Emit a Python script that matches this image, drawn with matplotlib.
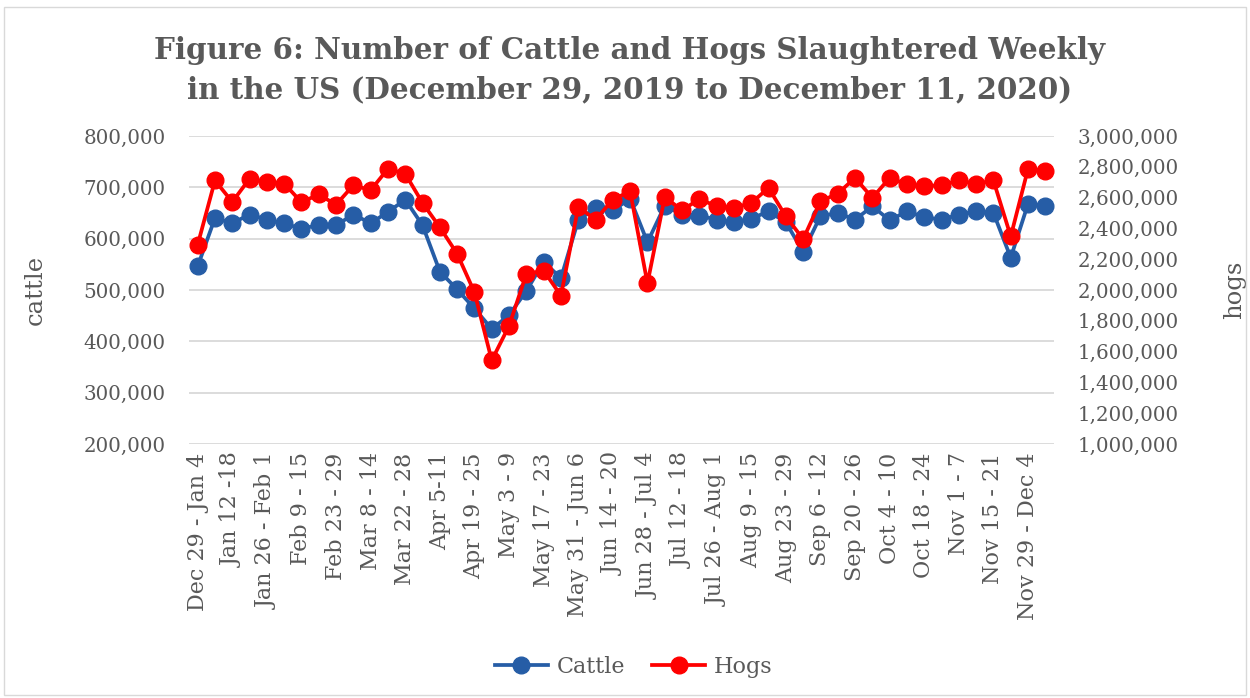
import matplotlib
matplotlib.use("Agg")
import matplotlib.pyplot as plt
from matplotlib.ticker import FuncFormatter
from matplotlib.patches import Rectangle

weeks = [
    "Dec 29 - Jan 4", "Jan 5 - 11", "Jan 12 -18", "Jan 19 - 25", "Jan 26 - Feb 1",
    "Feb 2 - 8", "Feb 9 - 15", "Feb 16 - 22", "Feb 23 - 29", "Mar 1 - 7",
    "Mar 8 - 14", "Mar 15 - 21", "Mar 22 - 28", "Mar 29 - Apr 4", "Apr 5-11",
    "Apr 12 - 18", "Apr 19 - 25", "Apr 26 - May 2", "May 3 - 9", "May 10 - 16",
    "May 17 - 23", "May 24 - 30", "May 31 - Jun 6", "Jun 7 - 13", "Jun 14 - 20",
    "Jun 21 - 27", "Jun 28 - Jul 4", "Jul 5 - 11", "Jul 12 - 18", "Jul 19 - 25",
    "Jul 26 - Aug 1", "Aug 2 - 8", "Aug 9 - 15", "Aug 16 - 22", "Aug 23 - 29",
    "Aug 30 - Sep 5", "Sep 6 - 12", "Sep 13 - 19", "Sep 20 - 26", "Sep 27 - Oct 3",
    "Oct 4 - 10", "Oct 11 - 17", "Oct 18 - 24", "Oct 25 - 31", "Nov 1 - 7",
    "Nov 8 - 14", "Nov 15 - 21", "Nov 22 - 28", "Nov 29 - Dec 4", "Dec 5 - 11",
]

cattle = [
    546000, 640000, 630000, 647000, 637000, 630000, 619000, 627000, 626000, 647000,
    630000, 652000, 676000, 626000, 536000, 501000, 464000, 424000, 451000, 498000,
    555000, 523000, 636000, 660000, 655000, 678000, 593000, 664000, 647000, 645000,
    637000, 632000, 639000, 653000, 632000, 574000, 644000, 650000, 637000, 663000,
    636000, 653000, 642000, 637000, 647000, 653000, 650000, 563000, 668000, 664000,
]

hogs = [
    2293000, 2711000, 2572000, 2722000, 2702000, 2691000, 2570000, 2620000, 2554000, 2680000,
    2648000, 2787000, 2754000, 2565000, 2407000, 2235000, 1985000, 1543000, 1767000, 2104000,
    2126000, 1963000, 2539000, 2457000, 2587000, 2641000, 2043000, 2604000, 2517000, 2591000,
    2543000, 2533000, 2565000, 2663000, 2478000, 2330000, 2576000, 2626000, 2728000, 2598000,
    2728000, 2685000, 2674000, 2680000, 2711000, 2689000, 2711000, 2348000, 2787000, 2772000,
]

title = "Figure 6: Number of Cattle and Hogs Slaughtered Weekly\nin the US (December 29, 2019 to December 11, 2020)"

TEXT = "#595959"
BLUE = "#265DA6"
RED = "#FF0000"
FONT = "DejaVu Serif"

plt.rcParams["font.family"] = FONT

fig = plt.figure(figsize=(12.5, 6.98), dpi=100)
fig.patches.append(Rectangle((0.003, 0.004), 0.994, 0.986, transform=fig.transFigure,
                             fill=False, edgecolor="#D9D9D9", linewidth=1.0))

ax = fig.add_axes([0.1512, 0.3639, 0.692, 0.4413])
ax2 = ax.twinx()

x = list(range(len(weeks)))
ax.plot(x, cattle, color=BLUE, lw=2.7, marker="o", ms=12, label="Cattle", zorder=3)
ax2.plot(x, hogs, color=RED, lw=2.7, marker="o", ms=12, label="Hogs", zorder=3)

ax.set_xlim(-0.5, len(weeks) - 0.5)
ax.set_ylim(200000, 800000)
ax2.set_ylim(1000000, 3000000)
ax.set_yticks(range(200000, 800001, 100000))
ax2.set_yticks(range(1000000, 3000001, 200000))
fmt = FuncFormatter(lambda v, p: f"{int(v):,}")
ax.yaxis.set_major_formatter(fmt)
ax2.yaxis.set_major_formatter(fmt)

ax.set_xticks(x[::2])
ax.set_xticklabels(weeks[::2], rotation=90, fontsize=16, color=TEXT)
ax.tick_params(axis="x", length=0, pad=6)
ax.tick_params(axis="y", length=0, pad=17, labelsize=14.3, labelcolor=TEXT)
ax2.tick_params(axis="y", length=0, pad=17, labelsize=14.3, labelcolor=TEXT)

ax.grid(axis="y", color="#D9D9D9", lw=1.3)
ax.set_axisbelow(True)
for a in (ax, ax2):
    for s in a.spines.values():
        s.set_visible(False)

ax.set_ylabel("cattle", fontsize=17.5, color=TEXT, labelpad=26)
ax2.set_ylabel("hogs", fontsize=17.5, color=TEXT, labelpad=32)

fig.text(0.504, 0.90, title, ha="center", va="center", fontsize=21.2, fontweight="bold",
         color=TEXT, linespacing=1.45)

h1, l1 = ax.get_legend_handles_labels()
h2, l2 = ax2.get_legend_handles_labels()
fig.legend(h1 + h2, l1 + l2, loc="center", bbox_to_anchor=(0.507, 0.045), ncol=2,
           frameon=False, fontsize=16, labelcolor=TEXT, handlelength=2.4,
           columnspacing=1.2, handletextpad=0.4)

fig.savefig("out.png", dpi=100)
